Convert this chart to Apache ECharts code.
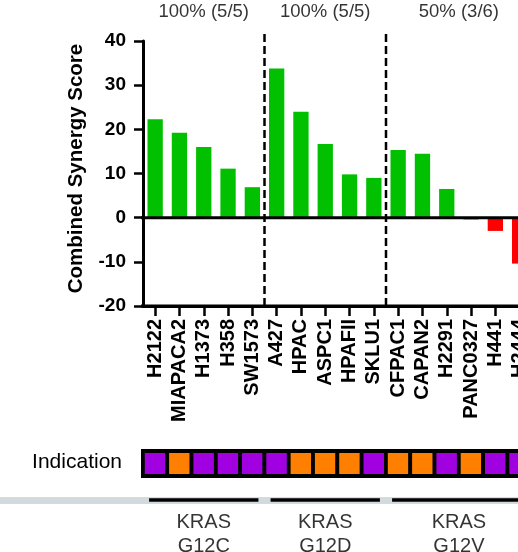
<!DOCTYPE html>
<html>
<head>
<meta charset="utf-8">
<script src="https://cdn.jsdelivr.net/npm/echarts@6/dist/echarts.min.js"></script>
<style>
  html, body { margin: 0; padding: 0; overflow: hidden; background: #fff; }
  #chart { width: 560px; height: 552px; }
</style>
</head>
<body>
<div id="chart"></div>
<script>
const categories = ['H2122', 'MIAPACA2', 'H1373', 'H358', 'SW1573', 'A427', 'HPAC', 'ASPC1', 'HPAFII', 'SKLU1',
  'CFPAC1', 'CAPAN2', 'H2291', 'PANC0327', 'H441', 'H2444'];
const scores = [22.3, 19.2, 16.0, 11.1, 6.9, 33.8, 24.0, 16.7, 9.8, 9.0, 15.3, 14.5, 6.5, -0.4, -3.0, -10.4];
const indication = ['lung', 'pancreatic', 'lung', 'lung', 'lung', 'lung', 'pancreatic', 'pancreatic', 'pancreatic', 'lung',
  'pancreatic', 'pancreatic', 'lung', 'pancreatic', 'lung', 'lung'];
const groupNames = ['KRAS\nG12C', 'KRAS\nG12D', 'KRAS\nG12V'];
const groupSizes = [5, 5, 6];
const responseLabels = ['100% (5/5)', '100% (5/5)', '50% (3/6)'];
const yMin = -20, yMax = 40, yStep = 10;

const font = 'Liberation Sans, Arial, sans-serif';
const indicationColors = { lung: '#A100E0', pancreatic: '#FF8000' };

const plotLeft = 143, bandW = 24.3;
const plotW = bandW * categories.length;
const yOffset = 4;
const xStart = -yOffset / bandW;

// group boundaries in band units
const bounds = [];
let acc = 0;
groupSizes.forEach(n => { bounds.push([acc, acc + n]); acc += n; });

const chart = echarts.init(document.getElementById('chart'));

// one black-framed square per cell line
function renderCell(params, api) {
  const c = api.coord([api.value(0), 0]);
  const band = api.size([1, 0])[0];
  const cs = params.coordSys;
  const bx = 1.8, by = 4;
  return {
    type: 'group',
    children: [
      { type: 'rect', shape: { x: c[0] - band / 2 - 2, y: cs.y, width: band + 4, height: cs.height }, style: { fill: '#000' } },
      { type: 'rect', shape: { x: c[0] - band / 2 + bx, y: cs.y + by, width: band - 2 * bx, height: cs.height - 2 * by },
        style: { fill: api.visual('color') } }
    ]
  };
}

const series = [
  {
    type: 'bar',
    xAxisIndex: 0,
    yAxisIndex: 0,
    barCategoryGap: '37%',
    data: scores.map(v => ({
      value: v,
      itemStyle: { color: v >= 0 ? '#00C000' : '#FF0000' }
    })),
    z: 2
  },
  // zero line and bottom axis line, stretched to meet the offset y axis
  {
    type: 'line', xAxisIndex: 1, yAxisIndex: 0, clip: false, symbol: 'none', silent: true,
    lineStyle: { color: '#000', width: 3 },
    data: [[xStart, 0], [categories.length, 0]], z: 5
  },
  {
    type: 'line', xAxisIndex: 1, yAxisIndex: 0, clip: false, symbol: 'none', silent: true,
    lineStyle: { color: '#000', width: 3 },
    data: [[xStart, yMin], [categories.length, yMin]], z: 5
  },
  // top response labels
  {
    type: 'scatter', xAxisIndex: 1, yAxisIndex: 0, clip: false, symbolSize: 0, silent: true,
    data: bounds.map((b, i) => ({ value: [(b[0] + b[1]) / 2, 46.6], name: responseLabels[i] })),
    label: { show: true, position: 'inside', formatter: p => p.name, fontFamily: font, fontSize: 18.5, color: '#000' }
  },
  // indication strip
  {
    type: 'custom', xAxisIndex: 2, yAxisIndex: 1, silent: true, clip: false,
    renderItem: renderCell,
    data: indication.map((k, i) => ({ value: [i, 1], itemStyle: { color: indicationColors[k] } }))
  },
  // mutation group labels
  {
    type: 'scatter', xAxisIndex: 3, yAxisIndex: 2, clip: false, symbolSize: 0, silent: true,
    data: bounds.map((b, i) => ({ value: [(b[0] + b[1]) / 2, -1.2], name: groupNames[i] })),
    label: { show: true, position: 'inside', formatter: p => p.name, fontFamily: font, fontSize: 20, lineHeight: 24, color: '#000' }
  }
];

// dashed separators between groups
bounds.slice(0, -1).forEach(b => {
  series.push({
    type: 'line', xAxisIndex: 1, yAxisIndex: 0, clip: false, symbol: 'none', silent: true,
    lineStyle: { color: '#000', width: 2.5, type: [8, 4] },
    data: [[b[1], yMin], [b[1], yMax + 1.8]], z: 6
  });
});

// black group bars
bounds.forEach(b => {
  series.push({
    type: 'line', xAxisIndex: 3, yAxisIndex: 2, clip: false, symbol: 'none', silent: true,
    lineStyle: { color: '#000', width: 3.5 },
    data: [[b[0] + 0.25, 0.5], [b[1] - 0.25, 0.5]], z: 6
  });
});

const option = {
  animation: false,
  grid: [
    { left: plotLeft, top: 41, width: plotW, height: 265 },
    { left: plotLeft, top: 449, width: plotW, height: 29 },
    { left: plotLeft, top: 490, width: plotW, height: 20 }
  ],
  xAxis: [
    {
      type: 'category', gridIndex: 0, data: categories,
      axisLine: { show: true, onZero: false, lineStyle: { color: '#000', width: 3 } },
      axisTick: { show: true, alignWithLabel: true, length: 10, lineStyle: { color: '#000', width: 2.5 } },
      axisLabel: { rotate: 90, interval: 0, margin: 13, fontFamily: font, fontSize: 20, fontWeight: 'bold', color: '#000' }
    },
    { type: 'value', gridIndex: 0, min: 0, max: categories.length, show: false },
    { type: 'category', gridIndex: 1, data: categories, show: false },
    { type: 'value', gridIndex: 2, min: 0, max: categories.length, show: false }
  ],
  yAxis: [
    {
      type: 'value', gridIndex: 0, min: yMin, max: yMax, interval: yStep, offset: yOffset,
      name: 'Combined Synergy Score', nameLocation: 'middle', nameGap: 52,
      nameTextStyle: { fontFamily: font, fontSize: 20.5, fontWeight: 'bold', color: '#000', padding: [0, 0, 0, 10] },
      axisLine: { show: true, lineStyle: { color: '#000', width: 3 } },
      axisTick: { show: true, length: 9, lineStyle: { color: '#000', width: 2.5 } },
      axisLabel: { margin: 13, fontFamily: font, fontSize: 19, fontWeight: 'bold', color: '#000' },
      splitLine: { show: false }
    },
    { type: 'value', gridIndex: 1, min: 0, max: 1, show: false },
    { type: 'value', gridIndex: 2, min: 0, max: 1, show: false }
  ],
  graphic: [
    { type: 'rect', left: 0, top: 497, shape: { width: 560, height: 7 }, style: { fill: '#D3DADD' }, z: 0 },
    { type: 'text', right: 560 - 122, top: 452, style: { text: 'Indication', font: '21px ' + font, fill: '#000', align: 'right' } }
  ],
  series: series
};

chart.setOption(option);
</script>
</body>
</html>
